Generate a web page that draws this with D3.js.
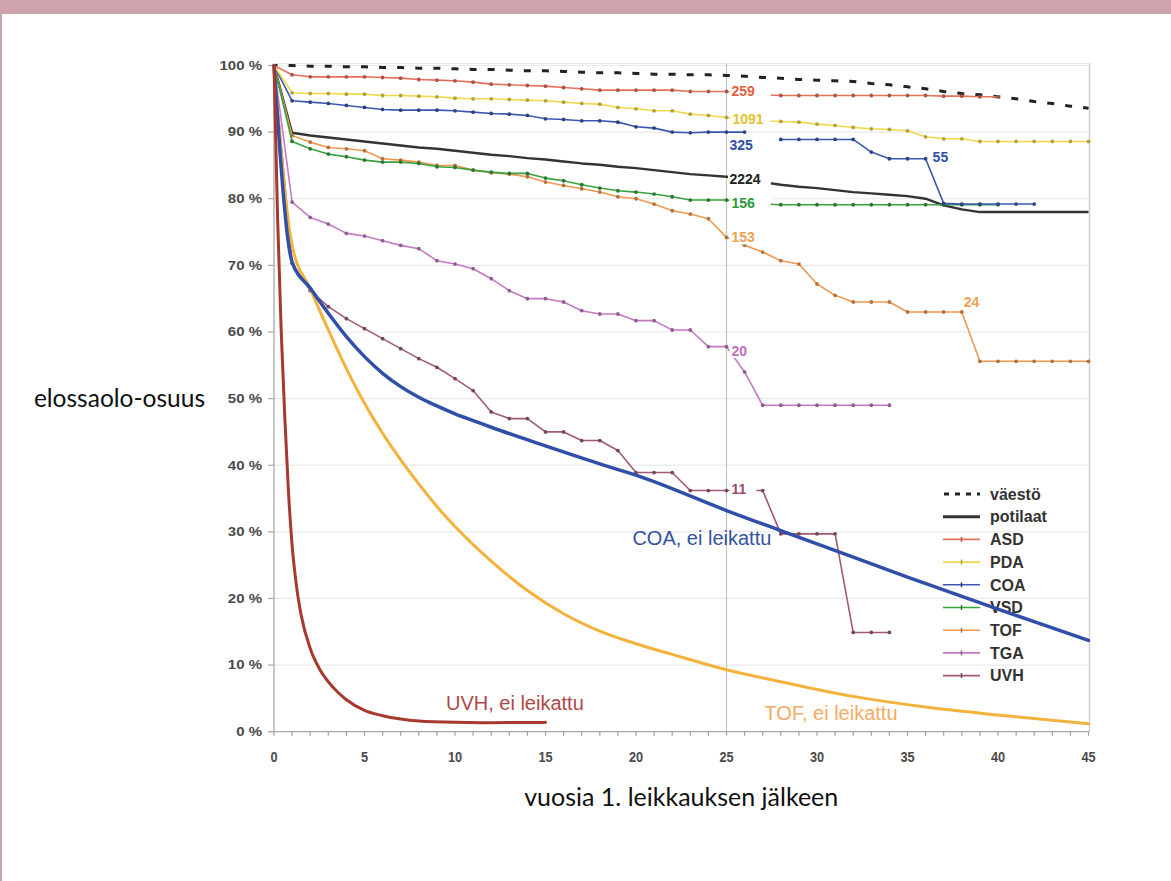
<!DOCTYPE html>
<html><head><meta charset="utf-8">
<script src="https://cdn.jsdelivr.net/npm/d3@7"></script>
<style>
html,body{margin:0;padding:0;background:#fff;}
svg{display:block;}
</style></head><body>
<svg id="chart" width="1171" height="881"></svg>
<script>
// ---------------- DATA ----------------
const yTickValues = [0,10,20,30,40,50,60,70,80,90,100];
const xTickLabels = [0,5,10,15,20,25,30,35,40,45];
const xMinorTicks = d3.range(0,46);

// values indexed by year (0,1,2,...)
const vaesto = [100,100,99.9,99.9,99.8,99.8,99.7,99.7,99.6,99.6,99.5,99.4,99.4,99.3,99.2,99.2,99.1,99.0,98.9,98.9,98.8,98.7,98.7,98.6,98.6,98.5,98.4,98.2,98.1,97.9,97.8,97.7,97.6,97.3,97.1,96.8,96.5,96.1,95.8,95.6,95.3,95.0,94.6,94.3,93.9,93.6];
const potilaat = [100,89.9,89.5,89.2,88.9,88.6,88.3,88.0,87.7,87.5,87.2,86.9,86.6,86.4,86.1,85.9,85.6,85.3,85.1,84.8,84.6,84.3,84.0,83.7,83.5,83.3,82.9,82.5,82.1,81.8,81.6,81.3,81.0,80.8,80.6,80.4,80.0,79.0,78.4,78.0,78.0,78.0,78.0,78.0,78.0,78.0];
const asd = [100,98.6,98.3,98.3,98.3,98.3,98.2,98.1,97.9,97.8,97.7,97.5,97.2,97.1,97.0,96.9,96.7,96.5,96.3,96.3,96.3,96.3,96.3,96.1,96.1,96.1,95.7,95.6,95.5,95.5,95.5,95.5,95.5,95.5,95.5,95.5,95.5,95.4,95.4,95.3,95.3];
const pda = [100,95.9,95.8,95.8,95.7,95.7,95.5,95.5,95.4,95.3,95.1,95.0,95.0,94.9,94.8,94.7,94.5,94.3,94.2,93.7,93.5,93.2,93.2,92.7,92.5,92.2,91.9,91.7,91.6,91.5,91.2,91.0,90.7,90.5,90.4,90.2,89.3,89.0,89.0,88.6,88.6,88.6,88.6,88.6,88.6,88.6];
const coa = [100,94.7,94.5,94.3,94.0,93.7,93.4,93.3,93.3,93.3,93.2,93.0,92.8,92.7,92.5,92.0,91.9,91.7,91.7,91.5,90.8,90.6,90.0,89.9,90.0,90.0,90.0,null,88.9,88.9,88.9,88.9,88.9,87.0,86.0,86.0,86.0,79.3,79.2,79.2,79.2,79.2,79.2];
const vsd = [100,88.6,87.5,86.7,86.3,85.8,85.5,85.5,85.3,84.8,84.7,84.3,84.0,83.8,83.8,83.1,82.7,82.1,81.6,81.2,81.0,80.7,80.3,79.8,79.8,79.8,79.3,79.2,79.1,79.1,79.1,79.1,79.1,79.1,79.1,79.1,79.1,79.1,79.1,79.1,79.1];
const tof = [100,89.5,88.5,87.7,87.5,87.2,86.0,85.8,85.5,85.0,85.0,84.3,83.9,83.7,83.3,82.5,82.0,81.5,81.0,80.3,80.0,79.2,78.2,77.7,77.0,74.2,73.0,72.0,70.7,70.2,67.2,65.5,64.5,64.5,64.5,63.0,63.0,63.0,63.0,55.6,55.6,55.6,55.6,55.6,55.6,55.6];
const tga = [100,79.5,77.2,76.2,74.8,74.4,73.7,73.0,72.5,70.7,70.2,69.5,68.0,66.2,65.0,65.0,64.5,63.2,62.7,62.7,61.7,61.7,60.3,60.3,57.8,57.8,54.0,49.0,49.0,49.0,49.0,49.0,49.0,49.0,49.0];
const uvh = [100,70.3,66.2,63.8,62.0,60.5,59.0,57.5,56.0,54.7,53.0,51.2,48.0,47.0,47.0,45.0,45.0,43.7,43.7,42.2,38.9,38.9,38.9,36.2,36.2,36.2,36.2,36.2,29.7,29.7,29.7,29.7,14.9,14.9,14.9];

// untreated (ei leikattu) curves
const coaUntreatedYears  = [0,1,2,3,4,5,6,7,8,9,10,11,12,15,18,20,25,30,35,40,45];
const coaUntreatedValues = [100,70.5,66.6,62.8,59.3,56.3,53.8,51.8,50.2,48.9,47.7,46.7,45.7,42.9,40.2,38.5,33.2,28.2,23.2,18.4,13.7];
const tofUntreatedYears  = [0,1,2,3,4,5,6,7,8,9,10,12,14,16,18,20,22,25,28,32,36,40,45];
const tofUntreatedValues = [100,73,66.5,60.3,54.5,49.3,44.8,40.8,37.2,33.8,30.8,25.6,21.2,17.7,15.1,13.2,11.6,9.3,7.5,5.3,3.7,2.5,1.2];
const uvhUntreatedYears  = [0,0.2,0.4,0.6,0.8,1.0,1.25,1.5,2,2.5,3,3.5,4,5,6,7,8,10,12,15];
const uvhUntreatedValues = [100,77,60,47,36,28,21.7,17.5,12.5,9.5,7.5,6,4.8,3.2,2.4,1.9,1.6,1.4,1.35,1.4];

const legendNames = ["väestö","potilaat","ASD","PDA","COA","VSD","TOF","TGA","UVH"];

// end labels: [text, series, year, dx, dy, color, coverToYear]
const endLabels = [
  ["259",  "ASD", 25, 5, -1, "#e4603e", 27.45],
  ["1091", "PDA", 25, 6, 1, "#e2c22a", 27.45],
  ["325",  "COA", 25, 3, 13, "#2f4fa6", null],
  ["2224", "potilaat", 25, 3, 2, "#222222", 27.45],
  ["156",  "VSD", 25, 5, 3, "#2a9a3a", 27.45],
  ["153",  "TOF", 25, 5, 0, "#f0a050", null],
  ["20",   "TGA", 25, 5, 4, "#c06ec0", null],
  ["11",   "UVH", 25, 5, -2, "#9e4868", 26.65],
  ["55",   "COA", 36, 7, -2, "#2f4fa6", null],
  ["24",   "TOF", 38, 2, -10, "#f0a050", null]
];

const untreatedLabels = [
  ["UVH, ei leikattu", 9.5, 4.3, "#b04848"],
  ["COA, ei leikattu", 19.8, 29.1, "#3452a4"],
  ["TOF, ei leikattu", 27.1, 2.8, "#f5ab62"]
];

// ---------------- SETUP ----------------
const svg = d3.select("#chart");
const W = 1171, H = 881;
const x = d3.scaleLinear().domain([0,45]).range([274, 1088.5]);
const y = d3.scaleLinear().domain([0,100]).range([731.7, 65.5]);

const seriesDefs = [
  {name:"ASD", data:asd, color:"#e8705a", w:1.6, markers:true},
  {name:"PDA", data:pda, color:"#f0d84a", w:1.6, markers:true},
  {name:"COA", data:coa, color:"#3a58b0", w:1.6, markers:true},
  {name:"VSD", data:vsd, color:"#3aa040", w:1.6, markers:true},
  {name:"TOF", data:tof, color:"#f09850", w:1.6, markers:true},
  {name:"TGA", data:tga, color:"#c27ac2", w:1.6, markers:true},
  {name:"UVH", data:uvh, color:"#a05a78", w:1.6, markers:true},
  {name:"potilaat", data:potilaat, color:"#333333", w:2.4, markers:false}
];
const seriesByName = {};
seriesDefs.forEach(s => seriesByName[s.name] = s);

// page frame
svg.append("rect").attr("x",0).attr("y",0).attr("width",W).attr("height",H).attr("fill","#fff");
svg.append("rect").attr("x",0).attr("y",0).attr("width",W).attr("height",14).attr("fill","#cfa3ac");
svg.append("rect").attr("x",0).attr("y",0).attr("width",2).attr("height",H).attr("fill","#cfa3ac");

// grid
const grid = svg.append("g");
grid.selectAll("line").data(yTickValues.filter(v=>v>0)).join("line")
  .attr("x1", x(0)).attr("x2", x(45))
  .attr("y1", d=>y(d)).attr("y2", d=>y(d))
  .attr("stroke","#e9e9e9").attr("stroke-width",1.2);
// right border
svg.append("line").attr("x1",x(45)+1).attr("x2",x(45)+1).attr("y1",y(100)-2).attr("y2",y(0))
  .attr("stroke","#cfcfcf").attr("stroke-width",1.5);
svg.append("line").attr("x1",x(0)).attr("x2",x(45)+1).attr("y1",y(100)-2).attr("y2",y(100)-2)
  .attr("stroke","#e6e6e6").attr("stroke-width",1.2);
// vertical line at 25
svg.append("line").attr("x1",x(25)).attr("x2",x(25)).attr("y1",y(100)-2).attr("y2",y(0))
  .attr("stroke","#c4c4c4").attr("stroke-width",1.2);

// axes
const yAxis = svg.append("g");
yAxis.append("line").attr("x1",x(0)).attr("x2",x(0)).attr("y1",y(100)).attr("y2",y(0))
  .attr("stroke","#a8a8a8").attr("stroke-width",1.3);
yAxis.selectAll("line.tk").data(yTickValues).join("line").attr("class","tk")
  .attr("x1",x(0)-6).attr("x2",x(0)).attr("y1",d=>y(d)).attr("y2",d=>y(d))
  .attr("stroke","#a8a8a8").attr("stroke-width",1.2);
yAxis.selectAll("g.lab").data(yTickValues).join("g").attr("class","lab")
  .attr("transform", d=>`translate(${x(0)-12},${y(d)})`)
  .append("text").attr("transform","scale(1.25,1)")
  .attr("text-anchor","end").attr("dy","0.36em")
  .attr("font-family","Liberation Sans, Arial, sans-serif").attr("font-weight","bold")
  .attr("font-size",12).attr("fill","#4a4a4a")
  .text(d=>d+" %");

const xAxis = svg.append("g");
xAxis.append("line").attr("x1",x(0)-6).attr("x2",x(45)+1).attr("y1",y(0)).attr("y2",y(0))
  .attr("stroke","#a8a8a8").attr("stroke-width",1.3);
xAxis.selectAll("line.tk").data(xMinorTicks).join("line").attr("class","tk")
  .attr("x1",d=>x(d)).attr("x2",d=>x(d)).attr("y1",y(0)).attr("y2",y(0)+4)
  .attr("stroke","#a0a0a0").attr("stroke-width",1.2);
xAxis.selectAll("g.lab").data(xTickLabels).join("g").attr("class","lab")
  .attr("transform", d=>`translate(${x(d)},${y(0)+30})`)
  .append("text").attr("transform","scale(0.85,1)")
  .attr("text-anchor","middle")
  .attr("font-family","Liberation Sans, Arial, sans-serif").attr("font-weight","bold")
  .attr("font-size",15).attr("fill","#4a4a4a")
  .text(d=>d);

// axis titles
svg.append("text").attr("x",205).attr("y",y(50)+8).attr("text-anchor","end")
  .attr("font-family","Lato, 'Open Sans', sans-serif").attr("font-size",24.5).attr("fill","#111")
  .text("elossaolo-osuus");
svg.append("text").attr("x",(x(0)+x(45))/2).attr("y",806).attr("text-anchor","middle")
  .attr("font-family","Lato, 'Open Sans', sans-serif").attr("font-size",25).attr("fill","#111")
  .text("vuosia 1. leikkauksen jälkeen");

// ---------------- SERIES ----------------
const lineGen = d3.line().defined(d=>d[1]!==null).x(d=>x(d[0])).y(d=>y(d[1]));
const gSeries = svg.append("g");

// population (dashed)
const popPts = vaesto.map((v,i)=>[i,v]);
gSeries.append("path").attr("d", lineGen(popPts)).attr("fill","none")
  .attr("stroke","#222").attr("stroke-width",3)
  .attr("stroke-dasharray","7 11.1").attr("stroke-dashoffset",3.5);

seriesDefs.slice().reverse().forEach(s=>{
  const pts = s.data.map((v,i)=>[i,v]);
  gSeries.append("path").attr("d", lineGen(pts)).attr("fill","none")
    .attr("stroke", s.color).attr("stroke-width", s.w).attr("stroke-linejoin","round");
  if (s.markers) {
    gSeries.append("g").selectAll("circle").data(pts.filter(p=>p[1]!==null && p[0]>0)).join("circle")
      .attr("cx",d=>x(d[0])).attr("cy",d=>y(d[1])).attr("r",1.9)
      .attr("fill", d3.color(s.color).darker(0.8));
  }
});

// end labels with white background
const gLab = svg.append("g");
endLabels.forEach(([txt, sname, yr, dx, dy, col, coverTo])=>{
  const s = seriesByName[sname];
  const v = s.data[yr];
  const tx = x(yr)+dx, ty = y(v)+dy;
  const g = gLab.append("g");
  const t = g.append("text").attr("x",tx).attr("y",ty).attr("dy","0.36em")
    .attr("font-family","Liberation Sans, Arial, sans-serif").attr("font-weight","bold")
    .attr("font-size",14).attr("fill",col).text(txt);
  const bb = t.node().getBBox();
  const x0 = Math.max(bb.x-2, x(yr)+1.5);
  const x1 = coverTo ? Math.max(bb.x+bb.width+2, x(coverTo)) : bb.x+bb.width+1;
  g.insert("rect","text").attr("x",x0).attr("y",bb.y+1).attr("width",x1-x0).attr("height",bb.height-2)
    .attr("fill","#fff");
});

// legend
const legend = svg.append("g");
const legStyles = {
  "väestö":{color:"#222", w:3, dash:"5 6", marker:false},
  "potilaat":{color:"#333", w:3, dash:null, marker:false}
};
legendNames.forEach((n,i)=>{
  const ly = 494 + i*22.7;
  const st = legStyles[n] || {color:seriesByName[n].color, w:1.6, dash:null, marker:true};
  const ln = legend.append("line").attr("x1",943).attr("x2",980).attr("y1",ly).attr("y2",ly)
    .attr("stroke",st.color).attr("stroke-width",st.w);
  if (st.dash) ln.attr("stroke-dasharray",st.dash).attr("stroke-dashoffset",-1);
  if (st.marker) {
    legend.append("line").attr("x1",961.5).attr("x2",961.5).attr("y1",ly-2.5).attr("y2",ly+2.5)
      .attr("stroke",d3.color(st.color).darker(0.8)).attr("stroke-width",1.5);
  }
  legend.append("text").attr("x",990).attr("y",ly).attr("dy","0.36em")
    .attr("font-family","Liberation Sans, Arial, sans-serif").attr("font-weight","bold")
    .attr("font-size",16).attr("fill","#333").text(n);
});

// untreated curves (on top)
const curveGen = d3.line().x(d=>x(d[0])).y(d=>y(d[1])).curve(d3.curveMonotoneX);
const untreated = [
  {yrs:tofUntreatedYears, vals:tofUntreatedValues, color:"#f3b23c", w:3},
  {yrs:coaUntreatedYears, vals:coaUntreatedValues, color:"#2f4fa8", w:3.5},
  {yrs:uvhUntreatedYears, vals:uvhUntreatedValues, color:"#a8392e", w:3}
];
untreated.forEach(u=>{
  const pts = u.yrs.map((yr,i)=>[yr,u.vals[i]]);
  svg.append("path").attr("d",curveGen(pts)).attr("fill","none")
    .attr("stroke",u.color).attr("stroke-width",u.w).attr("stroke-linecap","round");
});

untreatedLabels.forEach(([txt, yr, v, col])=>{
  svg.append("text").attr("x",x(yr)).attr("y",y(v)).attr("dy","0.36em")
    .attr("font-family","Liberation Sans, Arial, sans-serif")
    .attr("font-size",20).attr("fill",col).text(txt);
});
</script>
</body></html>
